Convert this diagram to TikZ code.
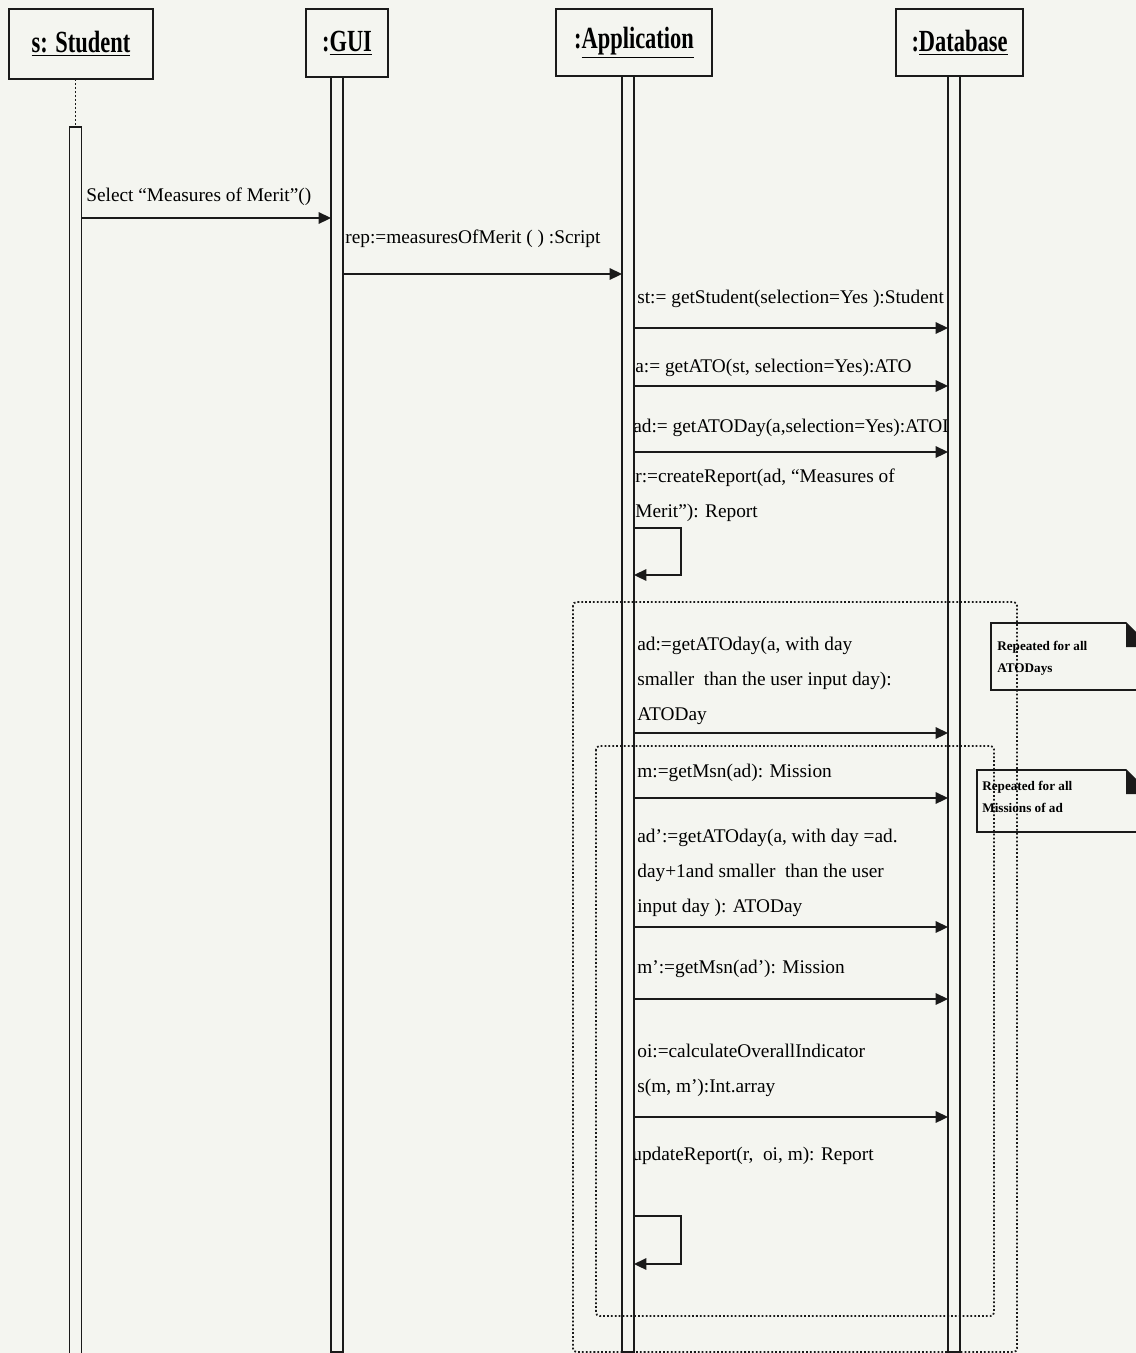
\documentclass[tikz,border=0pt]{standalone}
\usepackage{fontspec}
\setmainfont{Liberation Serif}
\newfontfamily\headfont[FakeStretch=0.73]{Liberation Serif}
\usetikzlibrary{arrows.meta,positioning}
\definecolor{paper}{HTML}{F4F5F0}
\definecolor{ink}{HTML}{1A1A1A}
\tikzset{
  lifehead/.style={draw=ink,fill=paper,line width=1pt,inner sep=0pt,outer sep=0pt,
                   font=\headfont\bfseries\fontsize{17.5}{20}\selectfont},
  actbar/.style={draw=ink,fill=paper,line width=1pt,inner sep=0pt,outer sep=0pt,
                 minimum width=0.24cm,anchor=north},
  msglabel/.style={inner sep=0pt,anchor=base west,align=left,
                   font=\fontsize{11}{20}\selectfont},
  msgarr/.style={-{Triangle[length=7pt,width=6.5pt]},line width=1pt,draw=ink},
  lifedots/.style={draw=ink,line width=1pt,dash pattern=on 1pt off 1.3pt},
  loopbox/.style={draw=ink,line width=1pt,dash pattern=on 1pt off 1.2pt,rounded corners=2pt},
  notetext/.style={inner sep=0pt,anchor=north west,align=left,
                   font=\bfseries\fontsize{7.5}{12.5}\selectfont},
  noteline/.style={draw=ink,line width=1pt}
}
\begin{document}
\begin{tikzpicture}[x=0.02cm,y=-0.02cm]
  \clip (0,0) rectangle (1136,1353);
  \fill[paper] (0,0) rectangle (1136,1353);

  \node[lifehead,minimum width=2.88cm,minimum height=1.40cm] (student) at (81,44) {\underline{s: Student}};
  \node[lifehead,minimum width=1.64cm,minimum height=1.36cm] (gui) at (347,43) {:\underline{GUI}};
  \node[lifehead,minimum width=3.12cm,minimum height=1.34cm] (app) at (634,42.5) {:\underline{Application}};
  \node[lifehead,minimum width=2.54cm,minimum height=1.34cm] (db) at (959.5,42.5) {:\underline{Database}};

  \node[msglabel] (l1) at (86,201) {Select “Measures of Merit”()};
  \node[msglabel] (l2) at (345,243) {rep:=measuresOfMerit ( ) :Script};
  \begin{scope}
    \clip (0,0) rectangle (948,1353);
    \node[msglabel] (l3) at (637,303) {st:= getStudent(selection=Yes ):Student};
    \node[msglabel] (l5) at (633,432) {ad:= getATODay(a,selection=Yes):ATODay};
  \end{scope}
  \node[msglabel] (l4) at (635,372) {a:= getATO(st, selection=Yes):ATO};
  \node[msglabel,anchor=north west] (l6) at (635,468.5)
    {r:=createReport(ad, “Measures of\\Merit”): Report};
  \node[msglabel,anchor=north west] (l7) at (637,636.5)
    {ad:=getATOday(a, with day\\smaller\ \ than the user input day):\\ATODay};
  \node[msglabel] (l8) at (637,777) {m:=getMsn(ad): Mission};
  \node[msglabel,anchor=north west] (l9) at (637,828.5)
    {ad’:=getATOday(a, with day =ad.\\day+1and smaller\ \ than the user\\input day ): ATODay};
  \node[msglabel] (l10) at (637,973) {m’:=getMsn(ad’): Mission};
  \node[msglabel,anchor=north west] (l11) at (637,1043.5)
    {oi:=calculateOverallIndicator\\s(m, m’):Int.array};
  \node[msglabel] (l12) at (632,1160) {updateReport(r,\ \ oi, m): Report};

  \node[actbar,minimum height=24.66cm] (actS) at (75.5,127) {};
  \node[actbar,minimum height=25.50cm] (actG) at (337,77) {};
  \node[actbar,minimum height=25.52cm] (actA) at (628,76) {};
  \node[actbar,minimum height=25.52cm] (actD) at (954,76) {};
  \draw[lifedots] (actS.north |- student.south) -- (actS.north);

  \draw[msgarr] (actS.east |- 0,218) -- (actG.west |- 0,218);
  \draw[msgarr] (actG.east |- 0,274) -- (actA.west |- 0,274);
  \draw[msgarr] (actA.east |- 0,328) -- (actD.west |- 0,328);
  \draw[msgarr] (actA.east |- 0,386) -- (actD.west |- 0,386);
  \draw[msgarr] (actA.east |- 0,452) -- (actD.west |- 0,452);
  \draw[msgarr] (actA.east |- 0,528) -| (681,575) -- (actA.east |- 0,575);
  \draw[msgarr] (actA.east |- 0,733) -- (actD.west |- 0,733);
  \draw[msgarr] (actA.east |- 0,798) -- (actD.west |- 0,798);
  \draw[msgarr] (actA.east |- 0,927) -- (actD.west |- 0,927);
  \draw[msgarr] (actA.east |- 0,999) -- (actD.west |- 0,999);
  \draw[msgarr] (actA.east |- 0,1117) -- (actD.west |- 0,1117);
  \draw[msgarr] (actA.east |- 0,1216) -| (681,1264) -- (actA.east |- 0,1264);

  \draw[loopbox] (573,602) rectangle (1017,1352);
  \draw[loopbox] (596,746) rectangle (994,1316);

  \node[notetext] (note1) at (997,641) {Repeated for all\\ATODays};
  \draw[noteline] (991,623) -- (1126,623) -- (1150,647) -- (1150,690) -- (991,690) -- cycle;
  \fill[ink] (1126,623) -- (1126,647) -- (1150,647) -- cycle;
  \node[notetext] (note2) at (982,781) {Repeated for all\\Missions of ad};
  \draw[noteline] (977,770) -- (1126,770) -- (1150,794) -- (1150,832) -- (977,832) -- cycle;
  \fill[ink] (1126,770) -- (1126,794) -- (1150,794) -- cycle;
\end{tikzpicture}
\end{document}
